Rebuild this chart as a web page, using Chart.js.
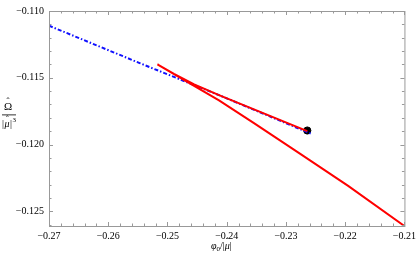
<!DOCTYPE html>
<html>
<head>
<meta charset="utf-8">
<script src="https://cdn.jsdelivr.net/npm/chart.js@4/dist/chart.umd.min.js"></script>
<style>
  body { margin: 0; background: #fff; }
  canvas { display: block; }
</style>
</head>
<body>
<canvas id="chart" width="420" height="253"></canvas>
<script>
// red curve: lower branch from the right, cusp, then upper branch to the dot
const redX = [-0.2100, -0.2195, -0.2279, -0.2354, -0.2413, -0.2463, -0.2517, -0.2489, -0.2455, -0.2413, -0.2264];
const redY = [-0.1261, -0.1231, -0.1206, -0.1184, -0.1167, -0.1154, -0.1140, -0.1147, -0.1155, -0.1163, -0.1190];

// blue dash-dot line
const blueX = [-0.2700, -0.2547, -0.2413, -0.2257];
const blueY = [-0.1111, -0.1139, -0.1163, -0.1192];

// black point
const dotX = [-0.2264];
const dotY = [-0.11895];

const xTicks = [-0.27, -0.26, -0.25, -0.24, -0.23, -0.22, -0.21];
const yTicks = [-0.110, -0.115, -0.120, -0.125];
const xMinorStep = 0.002;
const yMinorStep = 0.001;

const pts = (xs, ys) => xs.map((x, i) => ({ x: x, y: ys[i] }));

const frameTicks = {
  id: 'frameTicks',
  afterDraw(chart) {
    const { ctx, chartArea: a, scales } = chart;
    const xs = scales.x, ys = scales.y;
    ctx.save();
    ctx.setTransform(1, 0, 0, 1, 0, 0);
    ctx.strokeStyle = '#999';
    ctx.lineWidth = 1;
    ctx.strokeRect(a.left + 0.5, a.top + 0.5, a.right - a.left, a.bottom - a.top);

    const tick = (x1, y1, x2, y2) => {
      ctx.beginPath(); ctx.moveTo(x1, y1); ctx.lineTo(x2, y2); ctx.stroke();
    };
    // x ticks, bottom and top, pointing inward
    for (let v = xs.min; v <= xs.max + 1e-9; v += xMinorStep) {
      const major = xTicks.some(t => Math.abs(t - v) < 1e-6);
      const len = major ? 4 : 2.5;
      const px = Math.round(xs.getPixelForValue(v)) + 0.5;
      tick(px, a.bottom, px, a.bottom - len);
      tick(px, a.top, px, a.top + len);
    }
    // y ticks, left and right
    for (let k = 0; ; k++) {
      const v = -0.110 - k * yMinorStep;
      if (v < ys.min - 1e-9) break;
      const major = yTicks.some(t => Math.abs(t - v) < 1e-6);
      const len = major ? 4 : 2.5;
      const py = Math.round(ys.getPixelForValue(v)) + 0.5;
      tick(a.left, py, a.left + len, py);
      tick(a.right, py, a.right - len, py);
    }

    // y title: fraction  Omega-hat over |mu-hat|^3
    ctx.fillStyle = '#000';
    ctx.textAlign = 'center';
    ctx.textBaseline = 'alphabetic';
    ctx.font = '11px "Liberation Serif", serif';
    ctx.fillText('\u03A9', 8, 110);
    ctx.font = '9px "Liberation Serif", serif';
    ctx.fillText('\u02C6', 8, 104);
    ctx.fillRect(2, 114.5, 14, 0.8);
    ctx.font = '10px "Liberation Serif", serif';
    ctx.textAlign = 'left';
    ctx.fillText('|', 2, 127);
    ctx.font = 'italic 10px "Liberation Serif", serif';
    ctx.fillText('\u03BC', 4.5, 127);
    ctx.font = '8px "Liberation Serif", serif';
    ctx.fillText('\u02C6', 6, 122);
    ctx.font = '10px "Liberation Serif", serif';
    ctx.fillText('|', 10, 127);
    ctx.font = '7px "Liberation Serif", serif';
    ctx.fillText('3', 12.5, 122);

    // x title: phi_0 / |mu-hat|
    let x = 211;
    const put = (txt, font, dy) => {
      ctx.font = font;
      ctx.fillText(txt, x, 249 + dy);
      x += ctx.measureText(txt).width;
    };
    put('\u03C6', 'italic 10px "Liberation Serif", serif', 0);
    put('0', '7px "Liberation Serif", serif', 2);
    put('/|', '10px "Liberation Serif", serif', 0);
    const mx = x;
    put('\u03BC', 'italic 10px "Liberation Serif", serif', 0);
    put('|', '10px "Liberation Serif", serif', 0);
    ctx.font = '8px "Liberation Serif", serif';
    ctx.fillText('\u02C6', mx + 1.5, 244);
    ctx.restore();
  }
};

new Chart(document.getElementById('chart'), {
  type: 'scatter',
  data: {
    datasets: [
      {
        data: pts(redX, redY),
        showLine: true,
        borderColor: '#ff0000',
        borderWidth: 2,
        pointRadius: 0,
        tension: 0
      },
      {
        data: pts(blueX, blueY),
        showLine: true,
        borderColor: '#1010ff',
        borderWidth: 2,
        borderDash: [4, 2, 1.5, 2],
        pointRadius: 0
      },
      {
        data: pts(dotX, dotY),
        pointRadius: 3.6,
        backgroundColor: '#000',
        borderColor: '#000'
      }
    ]
  },
  options: {
    responsive: false,
    animation: false,
    devicePixelRatio: 1,
    layout: { padding: { top: 5, right: 14, left: 0, bottom: 0 } },
    plugins: { legend: { display: false }, tooltip: { enabled: false } },
    scales: {
      x: {
        type: 'linear',
        min: -0.27,
        max: -0.21,
        afterBuildTicks: s => { s.ticks = xTicks.map(v => ({ value: v })); },
        afterFit: s => { s.height = 27; },
        grid: { display: false, drawTicks: false },
        border: { display: false },
        ticks: {
          padding: 4,
          color: '#000',
          font: { family: '"Liberation Serif", serif', size: 10 },
          callback: v => '\u2212' + Math.abs(v).toFixed(2)
        }
      },
      y: {
        type: 'linear',
        min: -0.1261,
        max: -0.110,
        afterBuildTicks: s => { s.ticks = yTicks.map(v => ({ value: v })); },
        afterFit: s => { s.width = 49; },
        grid: { display: false, drawTicks: false },
        border: { display: false },
        ticks: {
          padding: 5,
          color: '#000',
          font: { family: '"Liberation Serif", serif', size: 10 },
          callback: v => '\u2212' + Math.abs(v).toFixed(3)
        }
      }
    }
  },
  plugins: [frameTicks]
});
</script>
</body>
</html>
